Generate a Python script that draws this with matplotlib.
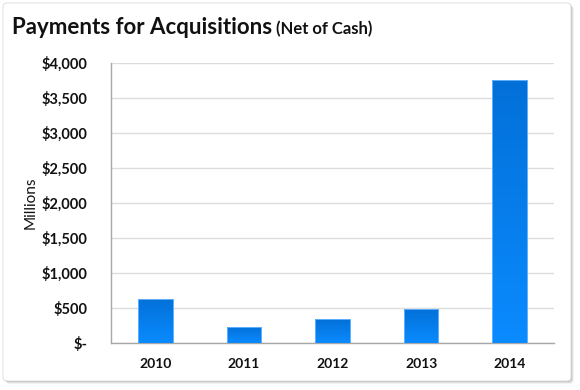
import numpy as np
import matplotlib
matplotlib.use("Agg")
import matplotlib.pyplot as plt
from matplotlib.patches import FancyBboxPatch
from matplotlib.colors import LinearSegmentedColormap

categories = ["2010", "2011", "2012", "2013", "2014"]
values = [630, 233, 340, 481, 3757]
yticks = [0, 500, 1000, 1500, 2000, 2500, 3000, 3500, 4000]
ytick_labels = ["$-", "$500", "$1,000", "$1,500", "$2,000", "$2,500", "$3,000", "$3,500", "$4,000"]
title_main = "Payments for Acquisitions"
title_sub = "(Net of Cash)"
ylabel = "Millions"

FONT = ["Lato", "DejaVu Sans"]
plt.rcParams["font.family"] = FONT

fig = plt.figure(figsize=(5.8, 3.9), dpi=100)
fig.patch.set_facecolor("white")

# card background with shadow
bg = fig.add_axes([0, 0, 1, 1])
bg.set_xlim(0, 580)
bg.set_ylim(390, 0)
bg.axis("off")
for i, a in enumerate([0.05, 0.08, 0.12]):
    off = 3 - i
    sh = FancyBboxPatch((3 + off, 3 + off), 568, 378, boxstyle="round,pad=0,rounding_size=4",
                        fc=(0, 0, 0, a), ec="none")
    bg.add_patch(sh)
card = FancyBboxPatch((3, 3), 568, 378, boxstyle="round,pad=0,rounding_size=4",
                      fc="white", ec=(0.85, 0.85, 0.85), lw=0.6)
bg.add_patch(card)
grad = np.linspace(0, 1, 256).reshape(-1, 1)
cm_bg = LinearSegmentedColormap.from_list("bg", ["#ffffff", "#efefef"])
im = bg.imshow(grad, extent=(3, 571, 381, 3), cmap=cm_bg, aspect="auto", origin="upper")
im.set_clip_path(card)

fig.text(12 / 580, 1 - 28 / 390, title_main, fontsize=16, fontweight="bold", color="#111111",
         va="center", ha="left")
fig.text(276 / 580, 1 - 29 / 390, title_sub, fontsize=12, fontweight="bold", color="#111111",
         va="center", ha="left")

ax = fig.add_axes([111 / 580, 1 - 343 / 390, (554 - 111) / 580, (343 - 63) / 390])
ax.patch.set_alpha(0)
x = np.arange(len(categories))
bars = ax.bar(x, values, width=0.39, color="#0a7fee", edgecolor="#5aaeff", linewidth=0.6, zorder=3)
cm_bar = LinearSegmentedColormap.from_list("bar", ["#0a8bff", "#0370d8"])
for b in bars:
    x0, y0 = b.get_x(), b.get_y()
    w, h = b.get_width(), b.get_height()
    gim = ax.imshow(grad, extent=(x0, x0 + w, y0, y0 + h), cmap=cm_bar, aspect="auto",
                    origin="lower", zorder=3.5)
    gim.set_clip_path(b)
    ax.add_patch(plt.Rectangle((x0, y0), w, h, fill=False, ec="#60b0ff", lw=0.7, zorder=4))

ax.set_xlim(-0.5, len(categories) - 0.5)
ax.set_ylim(0, 4000)
ax.set_yticks(yticks)
ax.set_yticklabels(ytick_labels)
ax.set_xticks(x)
ax.set_xticklabels(categories)
ax.tick_params(length=0, colors="#111111")
ax.tick_params(axis="y", pad=17, labelsize=10.5)
ax.tick_params(axis="x", pad=11, labelsize=10)
for lbl in ax.get_xticklabels() + ax.get_yticklabels():
    lbl.set_fontweight("bold")
ax.grid(axis="y", color="#dcdcdc", lw=1, zorder=0)
for s in ["top", "right"]:
    ax.spines[s].set_visible(False)
for s in ["left", "bottom"]:
    ax.spines[s].set_color("#a8a8a8")
    ax.spines[s].set_linewidth(1)
ax.set_ylabel(ylabel, fontsize=11, color="#111111")
ax.yaxis.set_label_coords(-(111 - 38) / 443, (343 - 203) / 280)

fig.savefig("out.png", dpi=100)
